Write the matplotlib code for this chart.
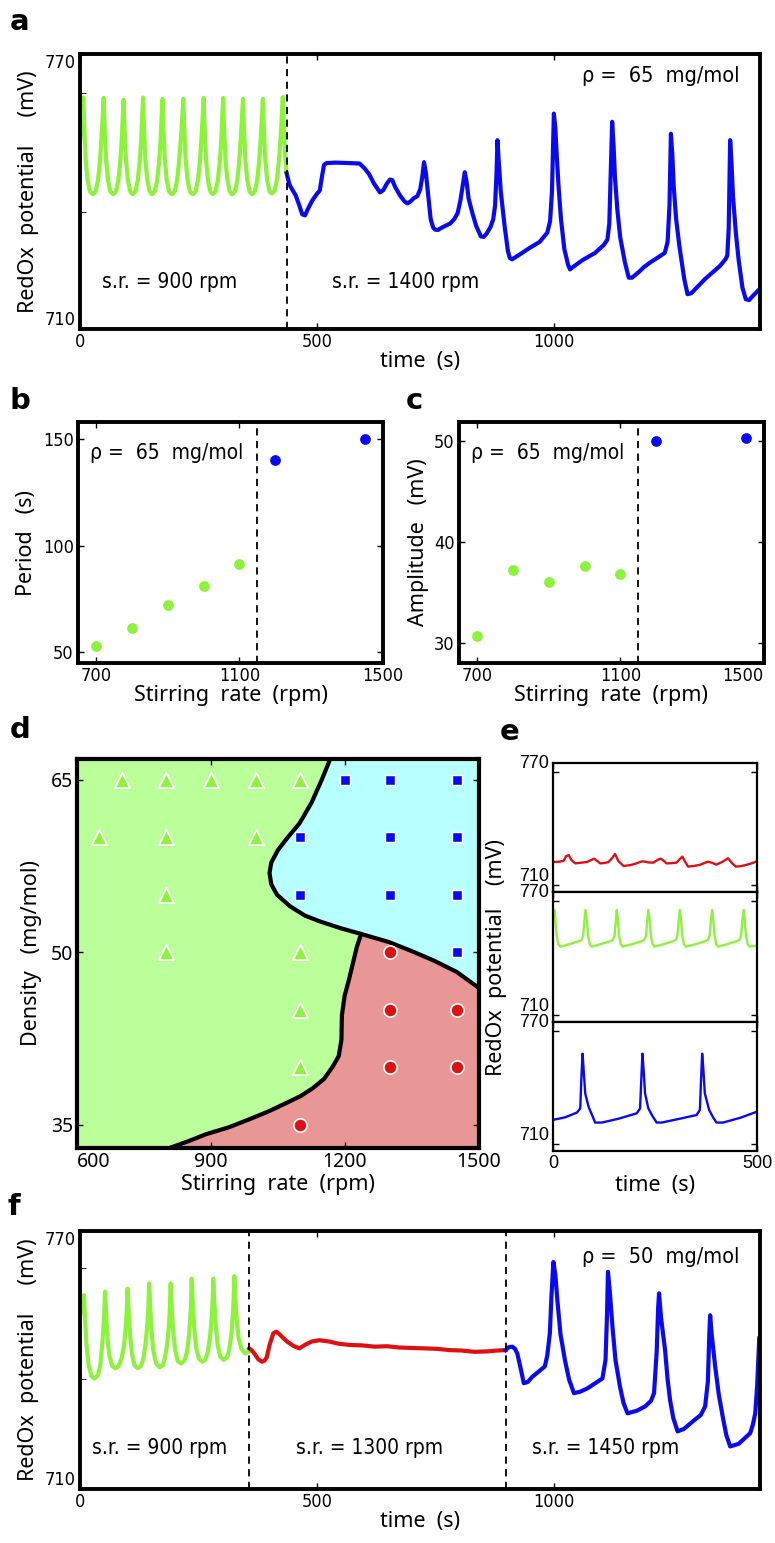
import numpy as np
import matplotlib
matplotlib.use('Agg')
import matplotlib.pyplot as plt

# colours
GREEN = '#8cf23c'
BLUE = '#0a0af0'
RED = '#dd1111'
FILL_GREEN = '#baff99'
FILL_CYAN = '#b8ffff'
FILL_PINK = '#e89696'

LABEL = ['Noto Sans', 'DejaVu Sans']
NARROW = dict(family='DejaVu Sans', stretch='condensed')

# ---- panel a : time series, rho = 65 ----
a_green_t = [0, 3, 7,
             9, 12, 16, 21, 27, 33, 38, 42, 45, 47.5, 50,
             52, 55, 59, 64, 70, 76, 81, 85, 88, 90, 92,
             94, 97, 101, 106, 111, 117, 122, 126, 129, 131, 133,
             135, 138, 142, 147, 152, 158, 163, 167, 170, 172, 174,
             176, 179, 183, 188, 194, 200, 205, 209, 212.5, 215.5, 218,
             220, 223, 227, 232, 238, 244, 249, 253, 256, 258.5, 261,
             263, 266, 270, 275, 280, 286, 291, 295, 298, 300, 302,
             304, 307, 311, 316, 321, 327, 332, 336, 339, 341.5, 344,
             346, 349, 353, 358, 363, 369, 374, 378, 381, 383.5, 386,
             388, 391, 395, 400, 405, 411, 416, 420, 423, 425.5, 428,
             430, 433, 436]
a_green_v = [751, 755.5, 760.5,
             754, 747, 742.5, 740, 739.4, 740, 742.5, 746.5, 751, 755.5, 760.4,
             754, 747, 742.5, 740, 739.4, 740, 742.5, 746.5, 751, 755.5, 760.0,
             754, 747, 742.5, 740, 739.4, 740, 742.5, 746.5, 751, 755.5, 760.5,
             754, 747, 742.5, 740, 739.4, 740, 742.5, 746.5, 751, 755.5, 760.2,
             754, 747, 742.5, 740, 739.4, 740, 742.5, 746.5, 751, 755.5, 760.2,
             754, 747, 742.5, 740, 739.4, 740, 742.5, 746.5, 751, 755.5, 760.4,
             754, 747, 742.5, 740, 739.4, 740, 742.5, 746.5, 751, 755.5, 760.4,
             754, 747, 742.5, 740, 739.4, 740, 742.5, 746.5, 751, 755.5, 760.2,
             754, 747, 742.5, 740, 739.4, 740, 742.5, 746.5, 751, 755.5, 760.2,
             754, 747, 742.5, 740, 739.6, 740.2, 742.8, 746.8, 751.2, 755.5, 760.6,
             754, 748, 744]
a_blue_t = [436, 442, 448, 455, 462, 469, 475, 480, 490, 500, 506, 511, 515, 520, 540, 570, 590,
            601, 610, 620, 633, 640, 648, 654, 659, 665, 675, 685, 691, 697, 704, 712, 718, 722,
            726, 730, 735, 740, 745, 749, 755, 765, 781, 790, 797, 803, 808, 812, 816, 820, 828,
            836, 846, 852, 858, 866, 872, 876, 879, 881, 884, 888, 896, 903, 907, 912, 930,
            949, 970, 986, 992, 996, 1000, 1003, 1006, 1010, 1015, 1022, 1030, 1034, 1040, 1060,
            1087, 1105, 1113, 1117, 1120, 1123, 1126, 1129, 1134, 1140, 1150, 1158, 1165, 1180,
            1190, 1203, 1215, 1234, 1240, 1244, 1247, 1250, 1253, 1258, 1265, 1275, 1282, 1290,
            1320, 1350, 1362, 1366, 1369, 1372, 1375, 1378, 1384, 1390, 1398, 1405, 1412, 1418,
            1434]
a_blue_v = [744, 741.5, 740.4, 739.2, 737.2, 735, 734.8, 736, 738, 739.5, 740.2, 743.5, 745.8,
            746.2, 746.3, 746.2, 746.1, 745, 743.8, 741.8, 739.8, 740.3, 741.8, 742.6, 742.5,
            741, 739.2, 737.8, 737.4, 737.8, 738.5, 739, 740.5, 743, 746.4, 744, 739, 734,
            732.2, 731.7, 731.6, 732.2, 733, 734, 735.3, 738.2, 741.5, 744.2, 742, 738.5, 735.3,
            732.5, 730.2, 730.1, 730.8, 732.2, 733.9, 737, 744, 751.2, 746, 740, 732.5, 727,
            725.5, 725.2, 726.4, 727.7, 729, 731, 733.5, 740, 757, 754, 748, 741, 734, 727.5,
            724, 723, 723.5, 725, 726.6, 728.3, 729.5, 733, 744, 755.2, 750, 743, 736, 730,
            724.5, 721.2, 721.2, 722.5, 723.5, 724.5, 725.3, 726.6, 729, 737, 752.6, 748, 741,
            734, 728, 721, 717.6, 717.8, 721, 723.7, 725.2, 726, 732, 751.2, 746, 739, 731,
            725, 719, 716.5, 716.3, 717, 718.7]
a_switch = 436

# ---- panels b, c : period and amplitude vs stirring rate ----
sr_green = [700, 800, 900, 1000, 1100]
sr_blue = [1200, 1450]
period_green = [53.1, 61.5, 72.3, 81.2, 91.6]
period_blue = [140.0, 150.2]
amp_green = [30.7, 37.25, 36.0, 37.6, 36.85]
amp_blue = [50.0, 50.3]
sr_switch = 1150

# ---- panel d : phase diagram ----
tri_x = [700, 800, 900, 1000, 1100, 650, 800, 1000, 800, 800, 1100, 1100, 1100]
tri_y = [65, 65, 65, 65, 65, 60, 60, 60, 55, 50, 50, 45, 40]
sq_x = [1200, 1300, 1450, 1100, 1300, 1450, 1100, 1300, 1450, 1450]
sq_y = [65, 65, 65, 60, 60, 60, 55, 55, 55, 50]
circ_x = [1300, 1300, 1450, 1300, 1450, 1100]
circ_y = [50, 45, 45, 40, 40, 35]
# boundary green/cyan then cyan/pink (top edge -> right edge)
b1_x = [1167, 1148, 1125, 1098, 1072, 1050, 1035, 1031, 1035, 1048, 1077, 1110, 1143, 1190,
        1236, 1298, 1350, 1398, 1450, 1500]
b1_y = [66.8, 65.0, 63.0, 61.2, 60.0, 58.9, 57.8, 56.9, 55.9, 55.0, 54.0, 53.2, 52.7, 52.1,
        51.6, 50.9, 50.1, 49.3, 48.3, 46.9]
# boundary green/pink (junction -> bottom edge)
b2_x = [1236, 1226, 1218, 1208, 1199, 1193, 1192, 1186, 1173, 1153, 1128, 1100, 1068, 1030,
        986, 940, 889, 850, 807]
b2_y = [51.6, 50.4, 49.1, 47.5, 46.2, 44.5, 42.4, 41.0, 40.1, 39.0, 38.2, 37.5, 36.9, 36.2,
        35.5, 34.8, 34.2, 33.6, 33.0]
junction = 14

# ---- panel e : three regimes ----
e_red_t = [0, 15, 26, 32, 38.3, 45, 54.6, 70, 83, 95, 101, 108, 116, 126, 136, 145, 152, 160,
           173, 190, 205, 214, 221, 234, 246, 256, 264, 272, 278, 290, 303, 310, 317, 324, 331,
           345, 360, 370, 380, 390, 400, 415, 429, 438, 448, 460, 474, 488, 500]
e_red_v = [722.4, 722.6, 723.0, 725.5, 726.1, 723.5, 721.7, 722.1, 722.4, 723.6, 724.2, 723.0,
           721.7, 721.9, 722.4, 724.5, 726.7, 723.0, 720.3, 720.8, 721.7, 722.5, 722.8, 722.2,
           722.1, 723.5, 724.2, 723.0, 721.7, 721.8, 722.1, 723.8, 725.3, 722.5, 720.0, 720.3,
           720.9, 721.8, 722.6, 722.0, 721.0, 722.5, 724.4, 722.0, 720.0, 720.2, 720.9, 721.8,
           722.8]
e_green_t = [0, 3.3, 6, 9, 13, 18, 40, 65, 70, 74, 77, 79.8, 83, 86, 90, 95, 117, 142, 147, 151,
             154, 156.4, 159, 162, 166, 171, 194, 219, 224, 228, 231, 233.7, 237, 240, 244, 249,
             271, 296, 301, 305, 308, 311, 314, 317, 321, 326, 350, 375, 380, 384, 387, 390,
             393, 396, 400, 405, 427, 452, 457, 461, 464, 467.4, 470, 473, 477, 482, 500]
e_green_v = [762, 765.5, 760, 752, 747.5, 746.2, 747.5, 749.2, 749.8, 752, 760, 765.5, 760, 752,
             747.5, 746.2, 747.5, 749.2, 749.8, 752, 760, 765.5, 760, 752, 747.5, 746.2, 747.5,
             749.2, 749.8, 752, 760, 765.5, 760, 752, 747.5, 746.2, 747.5, 749.2, 749.8, 752,
             760, 765.5, 760, 752, 747.5, 746.2, 747.5, 749.2, 749.8, 752, 760, 765.5, 760, 752,
             747.5, 746.2, 747.5, 749.2, 749.8, 752, 760, 765.5, 760, 752, 747.5, 746.2, 746.8]
e_blue_t = [0, 30, 58.6, 66.8, 69.5, 72.5, 75, 79, 87.1, 95, 103.4, 119.7, 160, 205.2, 213.4,
            216.5, 219.1, 222, 225.6, 233.7, 244, 254.1, 266.3, 310, 351.8, 360, 363, 365.6, 368.5,
            372.1, 382.7, 392, 400.7, 416.9, 460, 500]
e_blue_v = [723.0, 724.4, 726.9, 729.1, 745, 758.2, 750, 737.1, 730.0, 726, 721.6, 721.6, 723.6,
            726.5, 729.1, 745, 758.2, 750, 737.1, 729.1, 725, 721.6, 721.6, 723.6, 725.6, 728.3,
            745, 758.2, 750, 737.1, 728.3, 724.5, 721.6, 721.6, 724.2, 727.4]

# ---- panel f : time series, rho = 50 ----
f_green_t = [0, 4, 8.5,
             10.5, 13.5, 18, 24, 31, 38, 43, 47, 50, 51.8, 52.9,
             55, 58, 62, 68, 75, 82, 88, 93, 96.5, 98.8, 100.4,
             102.4, 105.5, 109.5, 115, 122, 129, 134, 138.5, 142, 144.4, 145.9,
             148, 151, 155, 161, 168, 175, 180, 184.5, 188, 190, 191.3,
             193.3, 196.5, 200.5, 206, 213, 220, 225, 229.5, 232.5, 234.4, 235.7,
             237.7, 241, 245, 251, 258, 265, 270, 274.5, 278, 280, 281.2,
             283.2, 286.5, 290.5, 296, 303, 310, 315, 319.5, 322.5, 324.4, 325.6,
             327.6, 331, 335, 341, 349, 357]
f_green_v = [750, 753, 755.1,
             750, 744, 739, 736.3, 735.7, 736.5, 739, 743.5, 748.5, 752.5, 755.9,
             751, 745, 741, 738.6, 738.1, 738.6, 740.5, 743.5, 747.5, 752, 756.6,
             752, 746, 741.5, 738.8, 738.1, 738.6, 740.5, 743.8, 748, 752.5, 757.8,
             753, 746.5, 742, 739.2, 738.3, 738.8, 740.8, 744.2, 748.5, 753, 757.8,
             753, 747, 742.5, 739.8, 739.2, 739.8, 741.5, 745, 749.5, 753.5, 758.9,
             754, 747.5, 743, 740.3, 739.6, 740.2, 742, 745.5, 750, 754, 758.9,
             754, 748, 743.5, 740.8, 740, 740.6, 742.4, 746, 750.5, 754.5, 759.5,
             755, 749, 745, 742.5, 741.5, 742.0]
f_red_t = [357, 362, 368, 376, 384, 389, 394, 400, 408, 414, 421, 428, 437, 450, 463, 476, 489,
           505, 526, 545, 569, 595, 622, 648, 674, 700, 727, 753, 780, 806, 833, 860, 880, 898]
f_red_v = [742.7, 742.3, 741.5, 740.2, 739.6, 739.8, 740.6, 743.5, 746.2, 746.6, 746.0, 745.2,
           744.3, 743.3, 742.7, 743.6, 744.3, 744.6, 744.3, 743.8, 743.5, 743.4, 743.1, 743.2,
           742.9, 742.8, 742.7, 742.6, 742.3, 742.2, 741.9, 742.0, 742.2, 742.3]
f_blue_t = [898, 905, 912.3, 918, 922.9, 930, 936.6, 945, 954.5, 968, 980.9, 986, 991.5, 995, 999,
            1003, 1007.4, 1014, 1023.3, 1032, 1042.3, 1055, 1070.8, 1090, 1102.5, 1109, 1112,
            1114.2, 1118, 1123.7, 1130, 1139.5, 1147, 1155.4, 1175, 1192.4, 1205, 1211.4, 1217,
            1220, 1222, 1226, 1234.7, 1240, 1245.2, 1252, 1261.1, 1275, 1292.8, 1310, 1319.2,
            1325, 1328, 1329.8, 1333, 1340.4, 1348, 1356.2, 1364, 1372.1, 1390, 1414.4, 1420,
            1425, 1429, 1433.4]
f_blue_v = [742.3, 743.0, 743.1, 742.6, 741.5, 738, 734.6, 734.9, 736.1, 737.3, 738.5, 741,
            746.2, 755, 762.8, 760, 753.9, 746, 740, 735.5, 732.3, 732.6, 733.4, 734.8, 735.7,
            740, 750, 760.5, 756, 747.7, 740, 733.8, 730, 727.6, 728.2, 729.2, 730.5, 732.3,
            742, 752, 755.5, 750, 742.3, 735.5, 730.7, 726.5, 723.4, 724, 725.7, 727.2, 729.2,
            735, 746, 750.4, 746, 738.5, 732, 726.9, 722.5, 719.9, 720.5, 723, 725, 727.6, 734,
            745]
f_switch = [357, 898]

W, H = 775, 1543
fig = plt.figure(figsize=(W / 100, H / 100), dpi=100)


def box(x0, y0, x1, y1):
    # pixel box (left, top, right, bottom) -> figure axes
    return fig.add_axes([x0 / W, 1 - y1 / H, (x1 - x0) / W, (y1 - y0) / H])


def style(ax, lw=2.8, font=None, size=12):
    for s in ax.spines.values():
        s.set_linewidth(lw)
    ax.tick_params(direction='in', top=True, right=True, length=4, width=1, pad=3)
    for lab in ax.get_xticklabels() + ax.get_yticklabels():
        if font is None:
            lab.set_family(NARROW['family'])
            lab.set_stretch(NARROW['stretch'])
        else:
            lab.set_family(font)
        lab.set_fontsize(size)


def panel_letter(x, y, s):
    fig.text(x / W, 1 - y / H, s, fontsize=21, fontweight='bold', va='center', ha='left',
             family='DejaVu Sans')


def note(ax, x, y, s, ha='left', size=15):
    ax.text(x, y, s, transform=ax.transAxes, ha=ha, va='center', fontsize=size, **NARROW)


def redox_axes(ax):
    ax.set_xlim(0, 1435)
    ax.set_ylim(710, 770)
    ax.set_xticks([0, 500, 1000])
    ax.set_yticks([710, 770])
    ax.set_yticks([735.5, 761.5], minor=True)
    ax.tick_params(which='minor', direction='in', left=True, right=False, length=4)
    style(ax, size=13)
    ylabs = ax.get_yticklabels()
    ylabs[0].set_va('bottom')
    ylabs[1].set_va('top')
    ax.set_ylabel('RedOx  potential     (mV)', family=LABEL, fontsize=15.5, labelpad=4)
    ax.set_xlabel('time  (s)', family=LABEL, fontsize=15.5, labelpad=0)


# panel a
ax = box(80, 54, 760, 329)
ax.plot(a_green_t, a_green_v, color=GREEN, lw=3, solid_joinstyle='round')
ax.plot(a_blue_t, a_blue_v, color=BLUE, lw=3, solid_joinstyle='round')
ax.axvline(a_switch, color='black', ls=(0, (4, 3)), lw=1.3)
redox_axes(ax)
note(ax, 0.97, 0.92, 'ρ =  65  mg/mol', ha='right', size=15.5)
note(ax, 0.033, 0.17, 's.r. = 900 rpm')
note(ax, 0.37, 0.17, 's.r. = 1400 rpm')
panel_letter(10, 22, 'a')

# panel b
ax = box(78, 422, 383, 663)
ax.scatter(sr_green, period_green, s=45, color=GREEN, zorder=3)
ax.scatter(sr_blue, period_blue, s=45, color=BLUE, zorder=3)
ax.axvline(sr_switch, color='black', ls=(0, (4, 3)), lw=1.3)
ax.set_xlim(650, 1500)
ax.set_ylim(45, 158)
ax.set_xticks([700, 1100, 1500])
ax.set_yticks([50, 100, 150])
style(ax, size=13)
ax.set_ylabel('Period   (s)', family=LABEL, fontsize=15.5, labelpad=4)
ax.set_xlabel('Stirring  rate  (rpm)', family=LABEL, fontsize=15.5, labelpad=0)
note(ax, 0.04, 0.87, 'ρ =  65  mg/mol', size=15)
panel_letter(10, 401, 'b')

# panel c
ax = box(459, 422, 764, 663)
ax.scatter(sr_green, amp_green, s=45, color=GREEN, zorder=3)
ax.scatter(sr_blue, amp_blue, s=45, color=BLUE, zorder=3)
ax.axvline(sr_switch, color='black', ls=(0, (4, 3)), lw=1.3)
ax.set_xlim(650, 1500)
ax.set_ylim(28, 51.9)
ax.set_xticks([700, 1100, 1500])
ax.set_yticks([30, 40, 50])
style(ax, size=13)
ax.get_xticklabels()[-1].set_ha('right')
ax.set_ylabel('Amplitude   (mV)', family=LABEL, fontsize=15.5, labelpad=4)
ax.set_xlabel('Stirring  rate  (rpm)', family=LABEL, fontsize=15.5, labelpad=0)
note(ax, 0.04, 0.87, 'ρ =  65  mg/mol', size=15)
panel_letter(406, 401, 'c')

# panel d
ax = box(77, 759, 479, 1148)
ax.set_facecolor(FILL_GREEN)
ax.set_xlim(600, 1500)
ax.set_ylim(33, 66.8)
top_y = ax.get_ylim()[1]
bot_y = ax.get_ylim()[0]
cyan_x = np.concatenate([b1_x, [1500]])
cyan_y = np.concatenate([b1_y, [top_y]])
ax.fill(cyan_x, cyan_y, color=FILL_CYAN, lw=0)
pink_x = np.concatenate([b1_x[junction:], [1500], b2_x[::-1]])
pink_y = np.concatenate([b1_y[junction:], [bot_y], b2_y[::-1]])
ax.fill(pink_x, pink_y, color=FILL_PINK, lw=0)
ax.plot(b1_x, b1_y, color='black', lw=3, solid_capstyle='round')
ax.plot(b2_x, b2_y, color='black', lw=3, solid_capstyle='round')
ax.scatter(tri_x, tri_y, marker='^', s=120, color=GREEN, edgecolor='white', lw=1.3, zorder=4)
ax.scatter(sq_x, sq_y, marker='s', s=55, color=BLUE, edgecolor='white', lw=1.0, zorder=4)
ax.scatter(circ_x, circ_y, marker='o', s=90, color=RED, edgecolor='white', lw=1.2, zorder=4)
ax.set_xticks([600, 900, 1200, 1500])
ax.set_yticks([35, 50, 65])
style(ax, lw=3, font=LABEL, size=14)
ax.get_xticklabels()[0].set_ha('left')
ax.set_ylabel('Density   (mg/mol)', family=LABEL, fontsize=15.5, labelpad=6)
ax.set_xlabel('Stirring  rate  (rpm)', family=LABEL, fontsize=15.5, labelpad=1)
panel_letter(10, 730, 'd')

# panel e
e_rows = [(763, 892, e_red_t, e_red_v, RED), (892, 1022, e_green_t, e_green_v, GREEN),
          (1022, 1151, e_blue_t, e_blue_v, BLUE)]
for i, (y0, y1, tt, vv, col) in enumerate(e_rows):
    ax = box(553, y0, 757, y1)
    ax.plot(tt, vv, color=col, lw=1.7)
    ax.set_xlim(0, 500)
    ax.set_ylim(706.5, 775)
    ax.set_yticks([710, 770])
    ax.set_xticks([0, 500])
    if i < 2:
        ax.tick_params(labelbottom=False)
    style(ax, lw=1.6, font=['Liberation Sans', 'DejaVu Sans'], size=13)
    for lab in ax.get_yticklabels():
        lab.set_va('bottom')
    if i == 2:
        ax.set_xlabel('time  (s)', family=LABEL, fontsize=15.5, labelpad=2)
fig.text(497 / W, 1 - 957 / H, 'RedOx  potential    (mV)', rotation=90, ha='center',
         va='center', family=LABEL, fontsize=15.5)
panel_letter(500, 732, 'e')

# panel f
ax = box(80, 1231, 760, 1489)
ax.plot(f_green_t, f_green_v, color=GREEN, lw=3, solid_joinstyle='round')
ax.plot(f_red_t, f_red_v, color=RED, lw=3, solid_joinstyle='round')
ax.plot(f_blue_t, f_blue_v, color=BLUE, lw=3, solid_joinstyle='round')
for s in f_switch:
    ax.axvline(s, color='black', ls=(0, (4, 3)), lw=1.3)
redox_axes(ax)
note(ax, 0.97, 0.9, 'ρ =  50  mg/mol', ha='right', size=15.5)
note(ax, 0.018, 0.16, 's.r. = 900 rpm')
note(ax, 0.317, 0.16, 's.r. = 1300 rpm')
note(ax, 0.665, 0.16, 's.r. = 1450 rpm')
panel_letter(8, 1207, 'f')

fig.savefig('out.png', dpi=100)
